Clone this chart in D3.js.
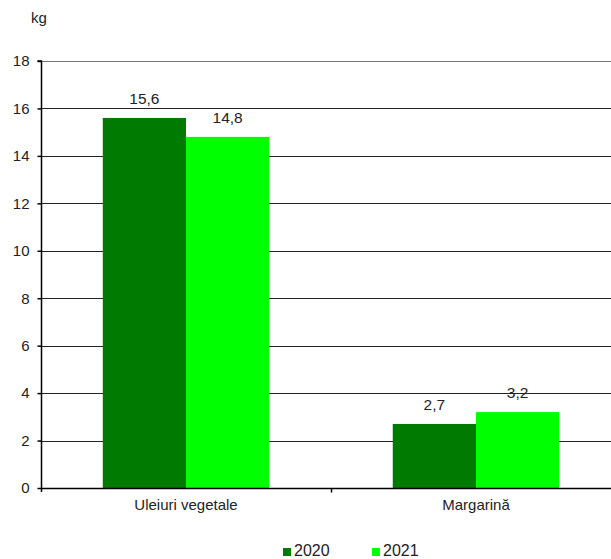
<!DOCTYPE html>
<html>
<head>
<meta charset="utf-8">
<script src="https://cdn.jsdelivr.net/npm/d3@7"></script>
<style>
  body { margin: 0; background: #fff; }
  svg { display: block; font-family: "Liberation Sans", Arial, sans-serif; }
</style>
</head>
<body>
<div id="chart"></div>
<script>
// data
const categories = ["Uleiuri vegetale", "Margarină"];
const years = ["2020", "2021"];
const values2020 = [15.6, 2.7];
const values2021 = [14.8, 3.2];
const yTicks = [0, 2, 4, 6, 8, 10, 12, 14, 16, 18];
const colors = ["#007A00", "#00FF00"];

const width = 611, height = 559;
const margin = {top: 61, right: -10, bottom: 71, left: 41};

const svg = d3.select("#chart").append("svg")
  .attr("width", width)
  .attr("height", height);

const x0 = d3.scaleBand()
  .domain(categories)
  .range([margin.left, width - margin.right]);

const x1 = d3.scaleBand()
  .domain(years)
  .range([x0.bandwidth() * 0.213, x0.bandwidth() * 0.787]);

const y = d3.scaleLinear()
  .domain([0, 18])
  .range([height - margin.bottom, margin.top]);

// gridlines
svg.append("g")
  .selectAll("line")
  .data(yTicks.filter(d => d > 0))
  .join("line")
    .attr("x1", margin.left)
    .attr("x2", width)
    .attr("y1", d => Math.round(y(d)) + 0.5)
    .attr("y2", d => Math.round(y(d)) + 0.5)
    .attr("stroke", d => d === 18 ? "#777" : "#222")
    .attr("stroke-width", 1);

// bars
const rows = categories.map((c, i) => ({cat: c, vals: [values2020[i], values2021[i]]}));

const group = svg.append("g")
  .selectAll("g")
  .data(rows)
  .join("g")
    .attr("transform", d => `translate(${x0(d.cat)},0)`);

group.selectAll("rect")
  .data(d => d.vals.map((v, j) => ({year: years[j], v, j})))
  .join("rect")
    .attr("x", d => x1(d.year))
    .attr("y", d => y(d.v))
    .attr("width", x1.bandwidth())
    .attr("height", d => y(0) - y(d.v))
    .attr("fill", d => colors[d.j]);

group.selectAll("text")
  .data(d => d.vals.map((v, j) => ({year: years[j], v, j})))
  .join("text")
    .attr("x", d => x1(d.year) + x1.bandwidth() / 2)
    .attr("y", d => y(d.v) - 14)
    .attr("text-anchor", "middle")
    .attr("font-size", 15.5)
    .attr("fill", "#222")
    .text(d => d3.format(".1f")(d.v).replace(".", ","));

// y axis
const yAxis = svg.append("g")
  .attr("transform", `translate(${margin.left + 0.5},0)`)
  .call(d3.axisLeft(y).tickValues(yTicks).tickSize(4).tickPadding(8).tickFormat(d3.format("d")));
yAxis.select(".domain").attr("stroke", "#000").attr("stroke-width", 1.5)
  .attr("d", `M-4,${y(18)}H0V${y(0) + 4}`);
yAxis.selectAll(".tick line").attr("stroke", "#000").attr("stroke-width", 1.5);
yAxis.selectAll(".tick text").attr("font-size", 15).attr("fill", "#222")
  .attr("font-family", "Liberation Sans, Arial, sans-serif");

// x axis
const xAxisY = Math.round(y(0)) + 0.5;
svg.append("line")
  .attr("x1", margin.left).attr("x2", width)
  .attr("y1", xAxisY).attr("y2", xAxisY)
  .attr("stroke", "#000").attr("stroke-width", 1.5);
svg.append("line")
  .attr("x1", x0(categories[1]) + 0.5).attr("x2", x0(categories[1]) + 0.5)
  .attr("y1", xAxisY).attr("y2", xAxisY + 4)
  .attr("stroke", "#000").attr("stroke-width", 1.5);

svg.append("g")
  .selectAll("text")
  .data(categories)
  .join("text")
    .attr("x", d => x0(d) + x0.bandwidth() / 2)
    .attr("y", xAxisY + 21)
    .attr("text-anchor", "middle")
    .attr("font-size", 15)
    .attr("fill", "#222")
    .text(d => d);

// unit label
svg.append("text")
  .attr("x", 31).attr("y", 23)
  .attr("font-size", 15)
  .attr("fill", "#222")
  .text("kg");

// legend
const legend = svg.append("g")
  .selectAll("g")
  .data(years)
  .join("g")
    .attr("transform", (d, i) => `translate(${283 + i * 89},548)`);
legend.append("rect")
  .attr("width", 8).attr("height", 8)
  .attr("fill", (d, i) => colors[i]);
legend.append("text")
  .attr("x", 11).attr("y", 8)
  .attr("font-size", 16)
  .attr("fill", "#222")
  .text(d => d);
</script>
</body>
</html>
